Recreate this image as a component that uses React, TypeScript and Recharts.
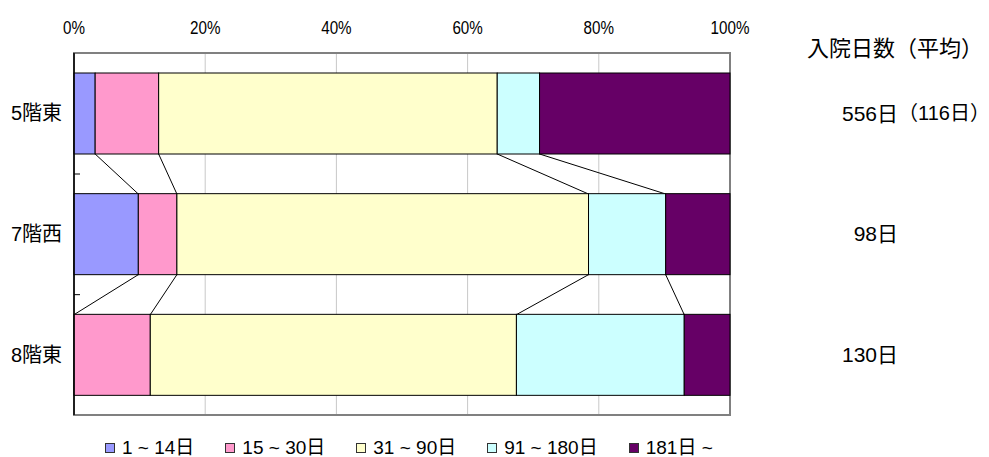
import React from 'react';
import { BarChart, Bar, XAxis, YAxis, CartesianGrid, Legend, ReferenceArea } from 'recharts';

const wards = ['5階東', '7階西', '8階東'];
const seriesNames = ['1 ~ 14日', '15 ~ 30日', '31 ~ 90日', '91 ~ 180日', '181日 ~'];
const seriesColors = ['#9999FF', '#FF99CC', '#FFFFCC', '#CCFFFF', '#660066'];
const days1to14 = [1, 5, 0];
const days15to30 = [3, 3, 5];
const days31to90 = [16, 32, 24];
const days91to180 = [2, 6, 11];
const days181plus = [9, 5, 3];
const stayDays = ['556日', '98日', '130日'];
const stayAvg = ['（116日）', '', ''];
const xTicks = [0, 0.2, 0.4, 0.6, 0.8, 1];
const headerText = '入院日数（平均）';

const series = [days1to14, days15to30, days31to90, days91to180, days181plus];
const rows = wards.map((name, i) => {
  const r: any = { name };
  series.forEach((s, k) => { r['s' + k] = s[i]; });
  return r;
});
const totals = wards.map((_, i) => series.reduce((a, s) => a + s[i], 0));
const cumStart = (i: number, k: number) => series.slice(0, k).reduce((a, s) => a + s[i], 0) / totals[i];
const cumEnd = (i: number, k: number) => cumStart(i, k + 1);

const CAT_GAP = 20;
const FONT = "'Liberation Sans', Arial, 'Noto Sans CJK JP', sans-serif";

const makeShape = (k: number) => (props: any) => {
  const { x, y, width, height, index, fill } = props;
  const i = index;
  const frac = series[k][i] / totals[i];
  const els: any[] = [];
  if (width > 0) {
    els.push(<rect key="r" x={x} y={y} width={width} height={height} fill={fill} stroke="#000" strokeWidth={1} />);
  }
  if (frac > 0 && i < wards.length - 1) {
    const P = width / frac;
    const x0 = x - cumStart(i, k) * P;
    const band = height + 2 * CAT_GAP;
    if (k < series.length - 1) {
      const nx = x0 + cumEnd(i + 1, k) * P;
      els.push(<line key="l" x1={x + width} y1={y + height} x2={nx} y2={y + band} stroke="#000" strokeWidth={1} />);
    }
    if (k === 0) {
      const ty = y + height + CAT_GAP;
      els.push(<line key="t" x1={x0} y1={ty} x2={x0 + 6} y2={ty} stroke="#000" strokeWidth={1} />);
    }
  }
  return <g>{els}</g>;
};

const TopTick = (props: any) => {
  const { x, y, payload } = props;
  return (
    <text transform={`translate(${x},${y}) scale(0.8,1)`} textAnchor="middle" fontSize={19} fill="#000">
      {`${Math.round(payload.value * 100)}%`}
    </text>
  );
};

const RightTick = (props: any) => {
  const { x, y, payload } = props;
  const i = wards.indexOf(payload.value);
  return (
    <g>
      <text x={x} y={y} dy="0.355em" textAnchor="end" fontSize={21} fill="#000">{stayDays[i]}</text>
      {stayAvg[i] ? (
        <text x={x} y={y} dy="0.355em" textAnchor="start" fontSize={20} fill="#000">{stayAvg[i]}</text>
      ) : null}
    </g>
  );
};

const LegendContent = () => (
  <div style={{ display: 'flex', alignItems: 'center', paddingLeft: 105, height: 23, fontSize: 19, lineHeight: '23px', fontFamily: FONT, color: '#000' }}>
    {seriesNames.map((n, k) => (
      <div key={k} style={{ display: 'flex', alignItems: 'center', marginRight: 31 }}>
        <span style={{ display: 'inline-block', width: 8, height: 8, background: seriesColors[k], border: '1px solid #333', marginRight: 7 }} />
        <span style={{ whiteSpace: 'nowrap' }}>{n}</span>
      </div>
    ))}
  </div>
);

export default function App() {
  return (
    <div style={{ position: 'absolute', left: 0, top: 0, width: 989, height: 457, fontFamily: FONT, background: '#fff' }}>
      <BarChart
        width={989}
        height={457}
        data={rows}
        layout="vertical"
        stackOffset="expand"
        barCategoryGap={CAT_GAP}
        margin={{ top: 0, right: 0, bottom: 19, left: 0 }}
      >
        <CartesianGrid horizontal={false} stroke="#c8c8c8" />
        <XAxis
          type="number"
          orientation="top"
          domain={[0, 1]}
          ticks={xTicks}
          height={53}
          axisLine={false}
          tickLine={false}
          tickSize={0}
          tickMargin={19}
          tick={<TopTick />}
          interval={0}
        />
        <YAxis
          yAxisId="left"
          type="category"
          dataKey="name"
          width={74}
          axisLine={{ stroke: '#000', strokeWidth: 1.5 }}
          tickLine={false}
          tickSize={0}
          tickMargin={12}
          tick={{ fontSize: 20, fill: '#000' }}
        />
        <YAxis
          yAxisId="right"
          orientation="right"
          type="category"
          dataKey="name"
          width={259}
          axisLine={false}
          tickLine={false}
          tickSize={0}
          tickMargin={168}
          tick={<RightTick />}
        />
        {series.map((_, k) => (
          <Bar
            key={k}
            yAxisId="left"
            dataKey={'s' + k}
            name={seriesNames[k]}
            stackId="a"
            fill={seriesColors[k]}
            stroke="#000"
            isAnimationActive={false}
            shape={makeShape(k)}
          />
        ))}
        <ReferenceArea yAxisId="left" x1={0} x2={1} fill="none" stroke="#808080" strokeWidth={2} ifOverflow="visible" />
        <Legend verticalAlign="bottom" content={<LegendContent />} wrapperStyle={{ top: 436, left: 0, width: 989, height: 23 }} />
      </BarChart>
      <div style={{ position: 'absolute', left: 807, top: 37, fontSize: 22, lineHeight: '24px', whiteSpace: 'nowrap', color: '#000' }}>
        {headerText}
      </div>
    </div>
  );
}
